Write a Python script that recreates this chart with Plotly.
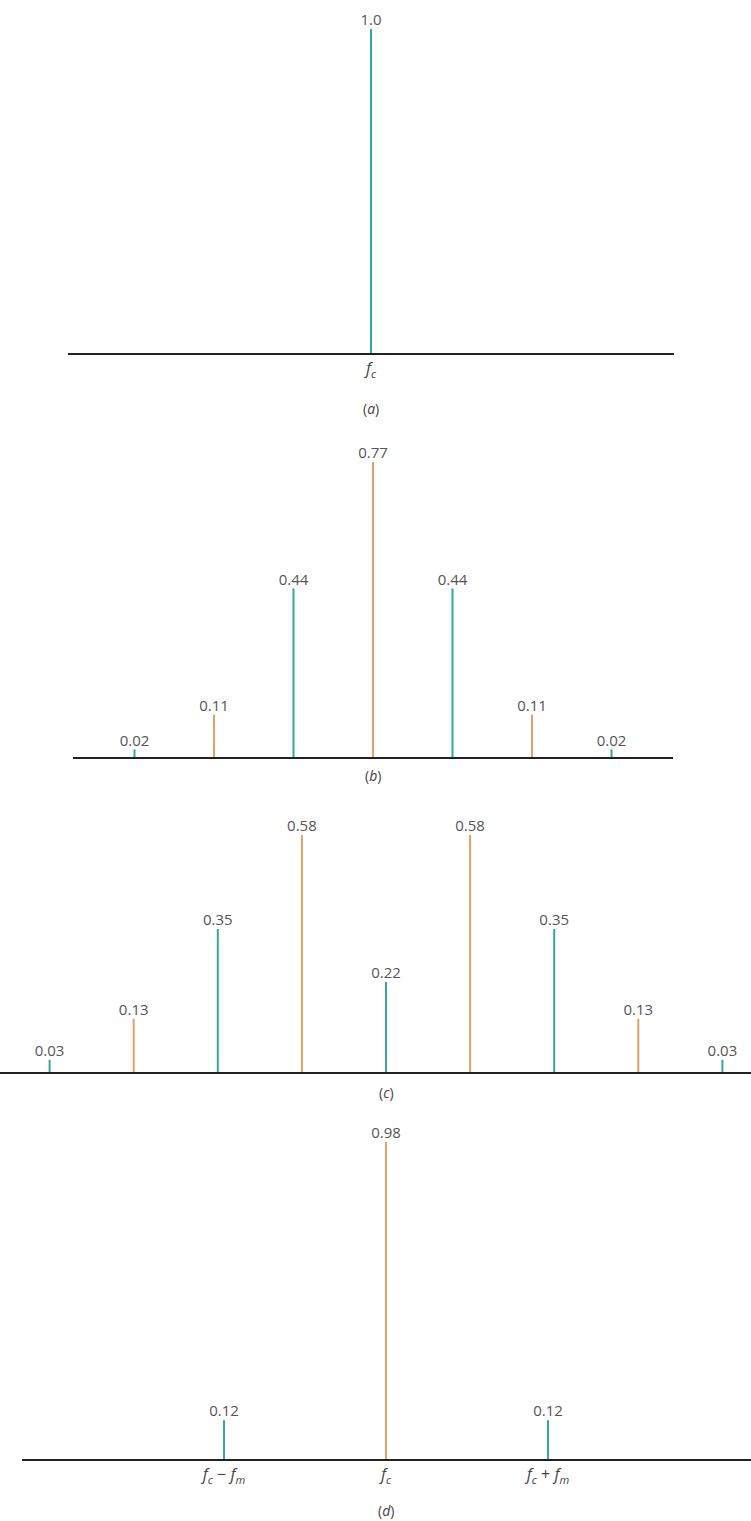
import plotly.graph_objects as go

W, H = 751, 1521

# ---- data ----
a_n = [0]
a_vals = [1.0]
a_labels = ["1.0"]

b_n = [-3, -2, -1, 0, 1, 2, 3]
b_vals = [0.02, 0.11, 0.44, 0.77, 0.44, 0.11, 0.02]
b_labels = ["0.02", "0.11", "0.44", "0.77", "0.44", "0.11", "0.02"]

c_n = [-4, -3, -2, -1, 0, 1, 2, 3, 4]
c_vals = [0.03, 0.13, 0.35, 0.58, 0.22, 0.58, 0.35, 0.13, 0.03]
c_labels = ["0.03", "0.13", "0.35", "0.58", "0.22", "0.58", "0.35", "0.13", "0.03"]

d_n = [-1, 0, 1]
d_vals = [0.12, 0.98, 0.12]
d_labels = ["0.12", "0.98", "0.12"]
d_ticks = ["<i>f</i><sub><i>c</i></sub> − <i>f</i><sub><i>m</i></sub>", "<i>f</i><sub><i>c</i></sub>",
           "<i>f</i><sub><i>c</i></sub> + <i>f</i><sub><i>m</i></sub>"]

TEAL = "#2fa9a1"
ORANGE = "#e3a15f"

a_cols = [TEAL]
b_cols = [TEAL, ORANGE, TEAL, ORANGE, TEAL, ORANGE, TEAL]
c_cols = [TEAL, ORANGE, TEAL, ORANGE, TEAL, ORANGE, TEAL, ORANGE, TEAL]
d_cols = [TEAL, ORANGE, TEAL]

# ---- layout geometry (pixels) ----
panels = [
    dict(n=a_n, v=a_vals, lab=a_labels, col=a_cols, ay=353, ty=29, x0=68, x1=674, cx=371, sp=150,
         plab="(<i>a</i>)", ply=408, ticks=["<i>f</i><sub><i>c</i></sub>"]),
    dict(n=b_n, v=b_vals, lab=b_labels, col=b_cols, ay=757, ty=462, x0=73, x1=673, cx=373, sp=79.5,
         plab="(<i>b</i>)", ply=775, ticks=None),
    dict(n=c_n, v=c_vals, lab=c_labels, col=c_cols, ay=1072, ty=835, x0=0, x1=751, cx=386, sp=84.1,
         plab="(<i>c</i>)", ply=1092, ticks=None),
    dict(n=d_n, v=d_vals, lab=d_labels, col=d_cols, ay=1459, ty=1142, x0=22, x1=751, cx=386, sp=162,
         plab="(<i>d</i>)", ply=1510, ticks=d_ticks),
]

fig = go.Figure()
FONT = "Open Sans, Lato, sans-serif"

for i, p in enumerate(panels, start=1):
    xa = "x" if i == 1 else f"x{i}"
    ya = "y" if i == 1 else f"y{i}"
    for n, v, c in zip(p["n"], p["v"], p["col"]):
        fig.add_trace(go.Scatter(x=[n, n], y=[0, v], mode="lines",
                                 line=dict(color=c, width=2), xaxis=xa, yaxis=ya,
                                 showlegend=False, hoverinfo="skip"))
    fig.add_trace(go.Scatter(x=p["n"], y=p["v"], mode="text", text=p["lab"],
                             textposition="top center", cliponaxis=False,
                             textfont=dict(family=FONT, size=15, color="#555555"),
                             xaxis=xa, yaxis=ya, showlegend=False, hoverinfo="skip"))
    ymax = max(p["v"])
    xr = [(p["x0"] - p["cx"]) / p["sp"], (p["x1"] - p["cx"]) / p["sp"]]
    xdom = [p["x0"] / W, p["x1"] / W]
    ydom = [1 - p["ay"] / H, 1 - p["ty"] / H]
    xkey = "xaxis" if i == 1 else f"xaxis{i}"
    ykey = "yaxis" if i == 1 else f"yaxis{i}"
    xax = dict(domain=xdom, range=xr, anchor=ya, showgrid=False, zeroline=False,
               showline=True, linewidth=2, linecolor="#222222", ticks="",
               fixedrange=True)
    if p["ticks"]:
        xax.update(tickmode="array", tickvals=p["n"] if len(p["ticks"]) > 1 else [0],
                   ticktext=p["ticks"], tickfont=dict(family=FONT, size=16, color="#444444"))
    else:
        xax.update(showticklabels=False)
    fig.layout[xkey] = xax
    fig.layout[ykey] = dict(domain=ydom, range=[0, ymax], anchor=xa, visible=False,
                            showgrid=False, zeroline=False, fixedrange=True)
    fig.add_annotation(text=p["plab"], xref="paper", yref="paper",
                       x=p["cx"] / W, y=1 - p["ply"] / H, yanchor="middle", xanchor="center",
                       showarrow=False, font=dict(family=FONT, size=14, color="#444444"))

fig.update_layout(width=W, height=H, margin=dict(l=0, r=0, t=0, b=0),
                  paper_bgcolor="white", plot_bgcolor="white")

fig.write_html("out.html", config={"displayModeBar": False, "staticPlot": True},
               post_script="document.body.style.margin='0';document.body.style.overflow='hidden';")
